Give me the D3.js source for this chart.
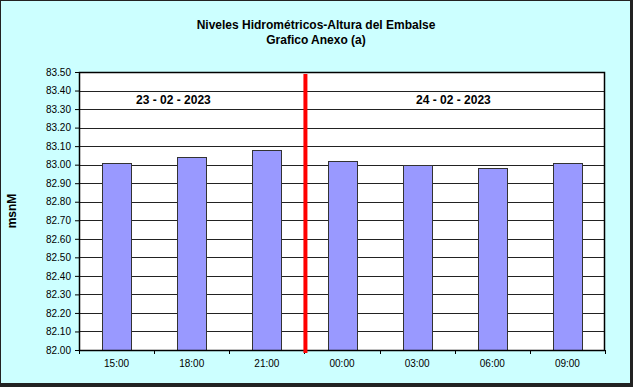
<!DOCTYPE html>
<html>
<head>
<meta charset="utf-8">
<script src="https://d3js.org/d3.v7.min.js"></script>
<style>
  body { margin:0; background:#fff; }
  text { font-family: Arial, "Liberation Sans", sans-serif; }
</style>
</head>
<body>
<svg width="633" height="387"></svg>
<script>
// data
var hours = ["15:00", "18:00", "21:00", "00:00", "03:00", "06:00", "09:00"];
var levels = [83.01, 83.04, 83.08, 83.02, 83.00, 82.98, 83.01];
var yTicks = [82.0, 82.1, 82.2, 82.3, 82.4, 82.5, 82.6, 82.7, 82.8, 82.9, 83.0, 83.1, 83.2, 83.3, 83.4, 83.5];
var dates = ["23 - 02 - 2023", "24 - 02 - 2023"];
var dayBreak = 3; // red line between 21:00 and 00:00

var svg = d3.select("svg");
var pLeft = 79, pRight = 605, pTop = 72, pBottom = 350;

// frame + shadow
svg.append("rect").attr("x", 0).attr("y", 0).attr("width", 633).attr("height", 387).style("fill", "#222");
svg.append("rect").attr("x", 1).attr("y", 1).attr("width", 629).attr("height", 382).style("fill", "#ccffff");

svg.append("text").attr("x", 316).attr("y", 29).attr("text-anchor", "middle")
  .style("font-size", "12px").style("font-weight", "bold").text("Niveles Hidrométricos-Altura del Embalse");
svg.append("text").attr("x", 316).attr("y", 44).attr("text-anchor", "middle")
  .style("font-size", "12px").style("font-weight", "bold").text("Grafico Anexo (a)");

var x = d3.scaleBand().domain(hours).range([pLeft, pRight]).paddingInner(0).paddingOuter(0);
var y = d3.scaleLinear().domain([82, 83.5]).range([pBottom, pTop]);

// plot area
svg.append("rect").attr("x", pLeft).attr("y", pTop).attr("width", pRight - pLeft).attr("height", pBottom - pTop)
  .style("fill", "#fff");

svg.append("g").selectAll("line").data(yTicks.slice(1)).enter().append("line")
  .attr("x1", pLeft).attr("x2", pRight)
  .attr("y1", function(d){ return Math.round(y(d)) + 0.5; })
  .attr("y2", function(d){ return Math.round(y(d)) + 0.5; })
  .style("stroke", "#222").style("stroke-width", 1);

var bw = 29;
svg.append("g").selectAll("rect").data(levels).enter().append("rect")
  .attr("x", function(d, i){ return Math.round(x(hours[i]) + x.bandwidth()/2 - bw/2) + 0.5; })
  .attr("y", function(d){ return Math.round(y(d)) + 0.5; })
  .attr("width", bw)
  .attr("height", function(d){ return pBottom - Math.round(y(d)); })
  .style("fill", "#9999ff").style("stroke", "#333").style("stroke-width", 1);

svg.append("rect").attr("x", pLeft + 0.5).attr("y", pTop + 0.5).attr("width", pRight - pLeft - 1).attr("height", pBottom - pTop)
  .style("fill", "none").style("stroke", "#000").style("stroke-width", 1.5);

// y axis
var yAxis = d3.axisLeft(y).tickValues(yTicks).tickFormat(d3.format(".2f")).tickSize(4).tickPadding(4);
var gy = svg.append("g").attr("transform", "translate(" + pLeft + ",0)").call(yAxis);
gy.select(".domain").remove();
gy.selectAll("line").style("stroke", "#000");
gy.selectAll("text").style("font-size", "10px").style("font-family", "Arial, 'Liberation Sans', sans-serif");

// x axis with ticks at category boundaries
var gx = svg.append("g").attr("transform", "translate(0," + pBottom + ")");
gx.selectAll("line").data(d3.range(hours.length + 1)).enter().append("line")
  .attr("x1", function(i){ return Math.round(pLeft + i * x.step()) + 0.5; })
  .attr("x2", function(i){ return Math.round(pLeft + i * x.step()) + 0.5; })
  .attr("y1", 0).attr("y2", 4).style("stroke", "#000");
gx.selectAll("text").data(hours).enter().append("text")
  .attr("x", function(d){ return x(d) + x.bandwidth()/2; })
  .attr("y", 17).attr("text-anchor", "middle").style("font-size", "10px").text(function(d){ return d; });

// day divider
var bx = pLeft + dayBreak * x.step();
svg.append("line").attr("x1", bx + 1).attr("x2", bx + 1).attr("y1", pTop + 2).attr("y2", pBottom + 3)
  .style("stroke", "#ff0000").style("stroke-width", 4);

svg.append("text").attr("x", bx - 131).attr("y", 104).attr("text-anchor", "middle")
  .style("font-size", "12px").style("font-weight", "bold").text(dates[0]);
svg.append("text").attr("x", bx + 149).attr("y", 104).attr("text-anchor", "middle")
  .style("font-size", "12px").style("font-weight", "bold").text(dates[1]);

svg.append("text").attr("transform", "translate(16,211) rotate(-90)").attr("text-anchor", "middle")
  .style("font-size", "12px").style("font-weight", "bold").text("msnM");
</script>
</body>
</html>
